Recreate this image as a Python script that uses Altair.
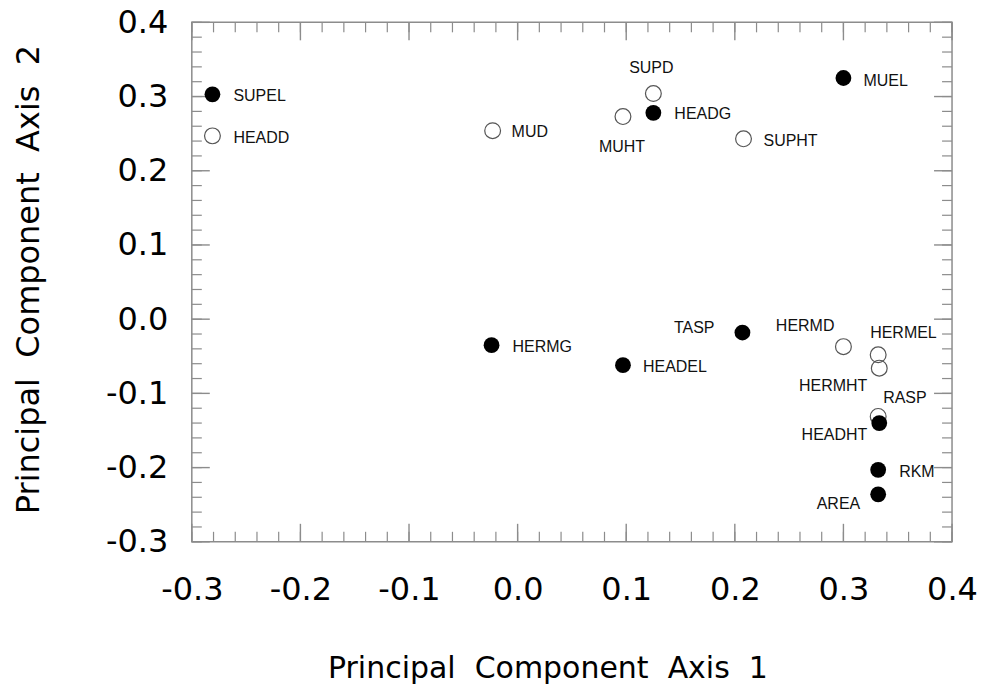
import altair as alt
import pandas as pd

# ---- data ----
names = ["SUPEL", "HEADD", "MUD", "SUPD", "HEADG", "MUHT", "SUPHT", "MUEL",
         "HERMG", "HEADEL", "TASP", "HERMD", "HERMEL", "HERMHT", "RASP",
         "HEADHT", "RKM", "AREA"]
pc1 = [-0.281, -0.281, -0.023, 0.125, 0.125, 0.097, 0.208, 0.300,
       -0.024, 0.097, 0.207, 0.300, 0.332, 0.333, 0.332, 0.333, 0.332, 0.332]
pc2 = [0.303, 0.247, 0.254, 0.304, 0.278, 0.273, 0.243, 0.325,
       -0.035, -0.062, -0.018, -0.037, -0.048, -0.066, -0.131, -0.140, -0.203, -0.236]
filled = [True, False, False, False, True, False, False, True,
          True, True, True, False, False, False, False, True, True, True]

major_ticks = [-0.3, -0.2, -0.1, 0.0, 0.1, 0.2, 0.3, 0.4]
minor_ticks = [round(-0.3 + 0.02 * i, 2) for i in range(36)]

# label placement (style): name -> (align, dx, dy)
label_pos = {
    "SUPEL": ("left", 21, 2), "HEADD": ("left", 21, 2), "MUD": ("left", 19, 1),
    "SUPD": ("center", -2, -26), "HEADG": ("left", 21, 1), "MUHT": ("center", -1, 30),
    "SUPHT": ("left", 20, 2), "MUEL": ("left", 20, 3), "HERMG": ("left", 21, 2),
    "HEADEL": ("left", 20, 2), "TASP": ("right", -28, -5), "HERMD": ("right", -9, -21),
    "HERMEL": ("left", -8, -22), "HERMHT": ("right", -12, 18), "RASP": ("left", 5, -18),
    "HEADHT": ("right", -12, 12), "RKM": ("left", 21, 2), "AREA": ("right", -18, 10),
}

W, H = 761, 520
FRAME = "#8c8c8c"
AXFONT = "DejaVu Sans"

df = pd.DataFrame({"name": names, "pc1": pc1, "pc2": pc2, "filled": filled})
df_major_x = pd.DataFrame({"pc1": major_ticks})
df_minor_x = pd.DataFrame({"pc1": minor_ticks})
df_major_y = pd.DataFrame({"pc2": major_ticks})
df_minor_y = pd.DataFrame({"pc2": minor_ticks})

xs = alt.Scale(domain=[-0.3, 0.4], nice=False, zero=False)
ys = alt.Scale(domain=[-0.3, 0.4], nice=False, zero=False)

lab_expr = "replace(format(datum.value, '.1f'), '\u2212', '-')"
xaxis = alt.Axis(values=major_ticks, labelExpr=lab_expr, ticks=False, domain=False,
                 grid=False, labelFont=AXFONT, labelFontSize=32, labelColor="#000",
                 labelPadding=33, labelFlush=False, labelOverlap=False,
                 title="Principal\u00a0\u00a0Component\u00a0\u00a0Axis\u00a0\u00a01",
                 titleFont=AXFONT, titleFontSize=30, titleFontWeight="normal",
                 titleColor="#000", titleX=356, titleY=136, titleAlign="center",
                 titleBaseline="alphabetic")
yaxis = alt.Axis(values=major_ticks, labelExpr=lab_expr, ticks=False, domain=False,
                 grid=False, labelFont=AXFONT, labelFontSize=32, labelColor="#000",
                 labelPadding=24, labelFlush=False, labelOverlap=False,
                 title="Principal\u00a0\u00a0Component\u00a0\u00a0Axis\u00a0\u00a02",
                 titleFont=AXFONT, titleFontSize=32, titleFontWeight="normal",
                 titleColor="#000", titleX=-153, titleY=257, titleAngle=270,
                 titleAlign="center", titleBaseline="alphabetic")

X = alt.X("pc1:Q", scale=xs, axis=xaxis)
Y = alt.Y("pc2:Q", scale=ys, axis=yaxis)


def xticks(data, length, width):
    bottom = alt.Chart(data).mark_rule(color=FRAME, strokeWidth=width).encode(
        x=X, y=alt.value(H), y2=alt.value(H - length))
    top = alt.Chart(data).mark_rule(color=FRAME, strokeWidth=width).encode(
        x=X, y=alt.value(0), y2=alt.value(length))
    return [bottom, top]


def yticks(data, length, width):
    left = alt.Chart(data).mark_rule(color=FRAME, strokeWidth=width).encode(
        y=Y, x=alt.value(0), x2=alt.value(length))
    right = alt.Chart(data).mark_rule(color=FRAME, strokeWidth=width).encode(
        y=Y, x=alt.value(W), x2=alt.value(W - length))
    return [left, right]


layers = []
layers += xticks(df_minor_x, 10, 1.2)
layers += xticks(df_major_x, 18, 1.4)
layers += yticks(df_minor_y, 10, 1.2)
layers += yticks(df_major_y, 18, 1.4)

base = alt.Chart(df)
open_pts = base.transform_filter("!datum.filled").mark_point(
    shape="circle", size=250, filled=False, stroke="#555", strokeWidth=1.2,
    fill="white", fillOpacity=0, opacity=1).encode(x=X, y=Y)
filled_pts = base.transform_filter("datum.filled").mark_point(
    shape="circle", size=250, filled=True, color="#000", opacity=1).encode(x=X, y=Y)
layers += [open_pts, filled_pts]

for n in names:
    align, dx, dy = label_pos[n]
    layers.append(
        base.transform_filter(alt.datum.name == n).mark_text(
            align=align, baseline="middle", dx=dx, dy=dy, font="Liberation Sans",
            fontSize=16, color="#111").encode(x=X, y=Y, text="name:N"))

chart = alt.layer(*layers).properties(
    width=W, height=H,
    autosize=alt.AutoSizeParams(type="none"),
    padding={"left": 184, "top": 14, "right": 30, "bottom": 144},
    background="white",
).configure_view(stroke=FRAME, strokeWidth=1.5)

chart.save("out.html", embed_options={"renderer": "svg", "actions": False})
